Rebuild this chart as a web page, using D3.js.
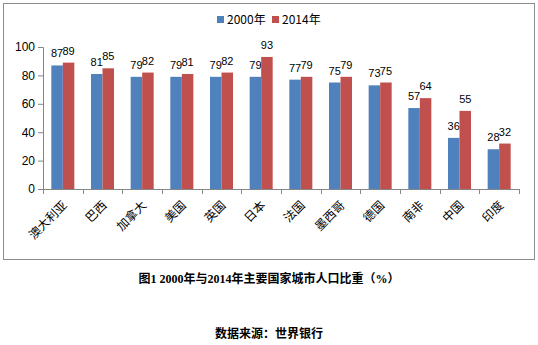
<!DOCTYPE html>
<html>
<head>
<meta charset="utf-8">
<script src="https://cdn.jsdelivr.net/npm/d3@7/dist/d3.min.js"></script>
<style>
  html, body { margin: 0; padding: 0; background: #fff; }
  svg { display: block; }
</style>
</head>
<body>
<svg id="chart" width="538" height="345"></svg>
<script>
// Urban population share (%) by country, 2000 vs 2014
const countries = ["澳大利亚", "巴西", "加拿大", "美国", "英国", "日本", "法国", "墨西哥", "德国", "南非", "中国", "印度"];
const values2000 = [87, 81, 79, 79, 79, 79, 77, 75, 73, 57, 36, 28];
const values2014 = [89, 85, 82, 81, 82, 93, 79, 79, 75, 64, 55, 32];
const seriesNames = ["2000年", "2014年"];
const seriesColors = ["#4F81BD", "#C0504D"];
const yTicks = [0, 20, 40, 60, 80, 100];

const svg = d3.select("#chart");
const numFont = "'Liberation Sans', 'Noto Sans', sans-serif";
const cjkFont = "'Noto Sans CJK SC', sans-serif";

// outer frame
svg.append("rect")
  .attr("x", 3.5).attr("y", 3.5)
  .attr("width", 531).attr("height", 256)
  .attr("fill", "#fff").attr("stroke", "#8c8c8c").attr("stroke-width", 1);

const plot = { left: 43, right: 519, top: 47, bottom: 189 };

const x = d3.scaleBand()
  .domain(countries)
  .range([plot.left, plot.right])
  .paddingInner(0).paddingOuter(0);

const y = d3.scaleLinear().domain([0, 100]).range([plot.bottom, plot.top]);

const barW = x.bandwidth() * 0.29;

// bars
const rows = countries.map((c, i) => ({ c, v: [values2000[i], values2014[i]] }));
const groups = svg.append("g").selectAll("g").data(rows).join("g");

[0, 1].forEach(s => {
  groups.append("rect")
    .attr("x", d => x(d.c) + x.bandwidth() / 2 + (s - 1) * barW)
    .attr("y", d => y(d.v[s]))
    .attr("width", barW)
    .attr("height", d => y(0) - y(d.v[s]))
    .attr("fill", seriesColors[s]);

  groups.append("text")
    .attr("x", d => x(d.c) + x.bandwidth() / 2 + (s - 0.5) * barW)
    .attr("y", d => y(d.v[s]) - 8)
    .attr("text-anchor", "middle")
    .attr("font-family", numFont)
    .attr("font-size", 11)
    .attr("fill", "#000")
    .text(d => d.v[s]);
});

// y axis
const yAxis = d3.axisLeft(y).tickValues(yTicks).tickSize(5).tickPadding(3);
const gy = svg.append("g").attr("transform", `translate(${plot.left},0)`).call(yAxis);
gy.select(".domain").attr("stroke", "#868686").attr("d", `M-5,${plot.top}.5H0.5V${plot.bottom}.5`);
gy.selectAll(".tick line").attr("stroke", "#868686");
gy.selectAll(".tick text").attr("font-family", numFont).attr("font-size", 12).attr("fill", "#000");

// x axis with ticks at category boundaries
const gx = svg.append("g").attr("transform", `translate(0,${plot.bottom})`);
gx.append("line")
  .attr("x1", plot.left).attr("x2", plot.right)
  .attr("y1", 0.5).attr("y2", 0.5)
  .attr("stroke", "#868686");
const bounds = countries.map(c => x(c)).concat([plot.right]);
gx.selectAll("line.tk").data(bounds).join("line")
  .attr("class", "tk")
  .attr("x1", d => Math.round(d) + 0.5).attr("x2", d => Math.round(d) + 0.5)
  .attr("y1", 0).attr("y2", 5)
  .attr("stroke", "#868686");

gx.selectAll("text.cat").data(countries).join("text")
  .attr("class", "cat")
  .attr("transform", d => `translate(${x(d) + x.bandwidth() / 2 + 5},${17}) rotate(-45)`)
  .attr("text-anchor", "end")
  .attr("font-family", cjkFont)
  .attr("font-size", 12)
  .attr("fill", "#000")
  .text(d => d);

// legend
const legend = svg.append("g");
const legendX = [217, 272];
seriesNames.forEach((name, i) => {
  legend.append("rect")
    .attr("x", legendX[i]).attr("y", 16)
    .attr("width", 7).attr("height", 7)
    .attr("fill", seriesColors[i]);
  legend.append("text")
    .attr("x", legendX[i] + 10).attr("y", 24)
    .attr("font-family", cjkFont)
    .attr("font-size", 12)
    .attr("fill", "#000")
    .text(name);
});

// caption and source
svg.append("text")
  .attr("x", 269).attr("y", 283)
  .attr("text-anchor", "middle")
  .attr("font-family", "'Liberation Serif', 'Noto Sans CJK SC', serif")
  .attr("font-weight", "bold")
  .attr("font-size", 12)
  .attr("fill", "#000")
  .text("图1 2000年与2014年主要国家城市人口比重（%）");

svg.append("text")
  .attr("x", 269).attr("y", 338)
  .attr("text-anchor", "middle")
  .attr("font-family", "'Liberation Serif', 'Noto Sans CJK SC', serif")
  .attr("font-weight", "bold")
  .attr("font-size", 12)
  .attr("fill", "#000")
  .text("数据来源：世界银行");
</script>
</body>
</html>
